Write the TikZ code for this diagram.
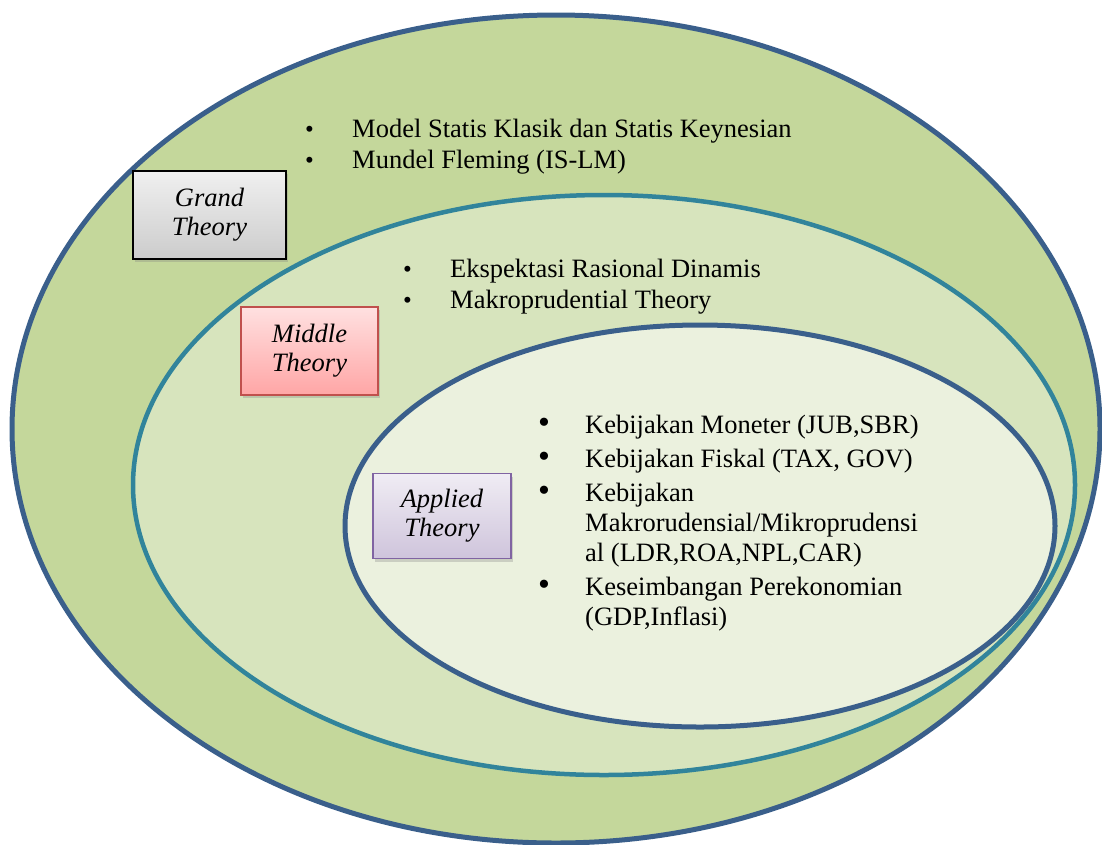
\documentclass[tikz,border=0pt]{standalone}
\usepackage{fontspec}
\setmainfont{Liberation Serif}
\usepackage{xcolor}
\usetikzlibrary{shadows}

\definecolor{ringblue}{HTML}{3A5F8B}
\definecolor{ringteal}{HTML}{31849B}
\definecolor{grandgreen}{HTML}{C4D79B}
\definecolor{middlegreen}{HTML}{D7E4BD}
\definecolor{appliedgreen}{HTML}{EBF1DE}
\definecolor{pinkborder}{HTML}{C0504D}
\definecolor{purpleborder}{HTML}{8064A2}

\newcommand{\smallbul}{\makebox[47pt][l]{\fontsize{25}{25}\selectfont\textbullet}}
\newcommand{\bigbul}{\makebox[47pt][l]{\fontsize{34}{34}\selectfont\textbullet}}

\begin{document}
\begin{tikzpicture}[x=1pt,y=-1pt,
    ring/.style={line width=5pt},
    theory/.style={draw,line width=1.5pt,inner sep=0pt,align=center,
      font=\fontsize{26.5}{29}\selectfont\itshape,
      drop shadow={shadow xshift=2pt,shadow yshift=-3pt,opacity=0.3}},
    items/.style={anchor=base west,inner sep=0pt,font=\fontsize{26.5}{31}\selectfont}]
  \useasboundingbox (0,0) rectangle (1102,844);
  \clip (0,0) rectangle (1102,844);
  % nested rings
  \draw[ring,draw=ringblue,fill=grandgreen] (556,429) ellipse [x radius=544,y radius=414];
  \draw[ring,line width=4.5pt,draw=ringteal,fill=middlegreen] (604,485) ellipse [x radius=471,y radius=290];
  \draw[ring,draw=ringblue,fill=appliedgreen] (700,526) ellipse [x radius=355,y radius=201];
  % theory labels
  \node[theory,top color=gray!12,bottom color=gray!40,draw=black,
        minimum width=153,minimum height=88] (grand) at (209.5,215) {Grand\\Theory};
  \node[theory,top color=red!12,bottom color=red!35,draw=pinkborder,
        minimum width=137,minimum height=88] (middle) at (309.5,351) {Middle\\Theory};
  \node[theory,top color=purpleborder!12,bottom color=purpleborder!38,draw=purpleborder,
        minimum width=138,minimum height=85] (applied) at (442,516) {Applied\\Theory};
  % bullet lists
  \node[items] (grandlist) at (305,137) {\begin{tabular}[t]{@{}l@{}l@{}}
      \smallbul & Model Statis Klasik dan Statis Keynesian\\
      \smallbul & Mundel Fleming (IS-LM)
    \end{tabular}};
  \node[items] (middlelist) at (403,277) {\begin{tabular}[t]{@{}l@{}l@{}}
      \smallbul & Ekspektasi Rasional Dinamis\\
      \smallbul & Makroprudential Theory
    \end{tabular}};
  \node[items,font=\fontsize{26.5}{30}\selectfont] (appliedlist) at (538,433) {\begin{tabular}[t]{@{}l@{}l@{}}
      \bigbul & Kebijakan Moneter (JUB,SBR)\\[4pt]
      \bigbul & Kebijakan Fiskal (TAX, GOV)\\[4pt]
      \bigbul & Kebijakan\\
              & Makrorudensial/Mikroprudensi\\
              & al (LDR,ROA,NPL,CAR)\\[4pt]
      \bigbul & Keseimbangan Perekonomian\\
              & (GDP,Inflasi)
    \end{tabular}};
\end{tikzpicture}
\end{document}
